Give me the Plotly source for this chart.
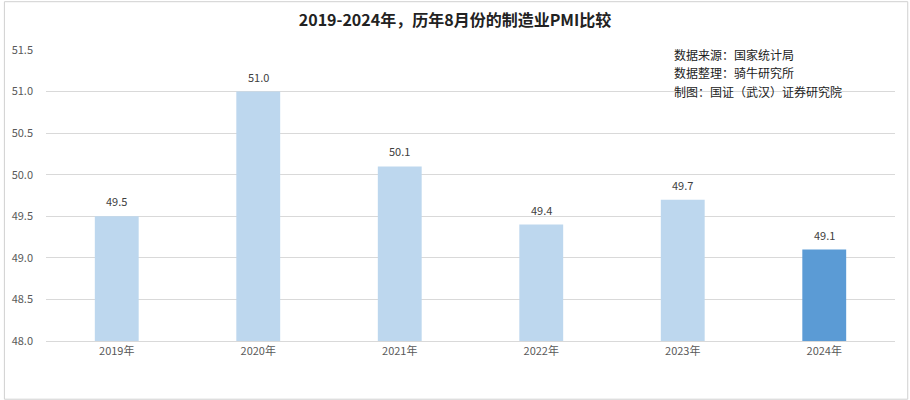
import plotly.graph_objects as go

years = ["2019年", "2020年", "2021年", "2022年", "2023年", "2024年"]
pmi = [49.5, 51.0, 50.1, 49.4, 49.7, 49.1]
bar_colors = ["#BDD7EE", "#BDD7EE", "#BDD7EE", "#BDD7EE", "#BDD7EE", "#5B9BD5"]
y_ticks = [48.0, 48.5, 49.0, 49.5, 50.0, 50.5, 51.0, 51.5]
title_text = "2019-2024年，历年8月份的制造业PMI比较"
source_lines = ["数据来源：国家统计局", "数据整理：骑牛研究所", "制图：国证（武汉）证券研究院"]

font_family = "Noto Sans CJK SC, Microsoft YaHei, sans-serif"

fig = go.Figure()
fig.add_trace(go.Bar(
    x=years, y=pmi,
    marker=dict(color=bar_colors, line=dict(width=0)),
    cliponaxis=False,
))

for yr, v in zip(years, pmi):
    fig.add_annotation(x=yr, y=v, text=f"{v:.1f}", showarrow=False,
                       yanchor="bottom", yshift=5,
                       font=dict(size=11, color="#404040", family=font_family))

fig.update_layout(
    width=910, height=400,
    margin=dict(l=43, r=15, t=50, b=59),
    paper_bgcolor="white", plot_bgcolor="white",
    bargap=0.69,
    showlegend=False,
    font=dict(family=font_family, color="#595959", size=11),
    title=dict(text="<b>" + title_text + "</b>", x=0.5, xanchor="center",
               y=0.95, yanchor="middle",
               font=dict(size=16, color="#222222", family=font_family)),
    xaxis=dict(showgrid=False, showline=True, linecolor="#D9D9D9", linewidth=1,
               ticks="", tickfont=dict(size=11, color="#595959")),
    yaxis=dict(range=[48.0, 51.5], tickvals=y_ticks,
               ticktext=[f"{v:.1f}" for v in y_ticks],
               showgrid=True, gridcolor="#D9D9D9", gridwidth=1,
               zeroline=False, showline=False, ticks="",
               ticklabelstandoff=12,
               tickfont=dict(size=11, color="#595959")),
)

for i, line in enumerate(source_lines):
    fig.add_annotation(
        text=line, xref="paper", yref="paper",
        x=0.737, y=0.983 - i * 0.062, xanchor="left", yanchor="middle", align="left",
        showarrow=False, font=dict(size=12, color="#222222", family=font_family),
    )

fig.add_shape(type="rect", xref="paper", yref="paper", x0=-0.049, y0=-0.2, x1=1.015, y1=1.166,
              line=dict(color="#D0D0D0", width=1), layer="below")

fig.write_html("out.html")
